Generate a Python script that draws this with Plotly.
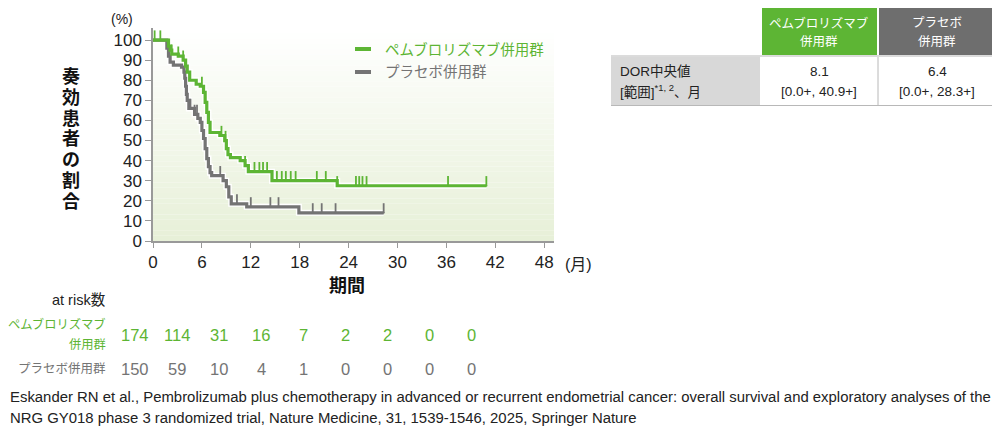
import plotly.graph_objects as go

# 奏効期間 (DOR) のKaplan-Meier曲線 : 時間(月)と生存割合(%)
pem_t = [0, 1.9, 2.1, 2.3, 3.1, 3.7, 4.0, 4.2, 4.5, 5.3, 5.8, 6.2, 6.4, 6.6, 6.8, 7.0,
         8.2, 8.8, 9.0, 9.2, 9.5, 10.7, 11.3, 11.7, 14.6, 22.6, 40.9]
pem_s = [100, 97, 95, 93, 92, 90, 87, 84, 80, 78, 77, 74, 69, 64, 59, 54,
         52.5, 50, 46, 43, 41.5, 40, 37.5, 34.5, 30, 27.5, 27.5]
pem_cens = [0.2, 0.9, 2.3, 3.1, 3.7, 6.0, 8.4, 8.9, 11.3, 12.45, 13.05, 13.5, 14.0,
            15.2, 15.8, 16.3, 16.9, 17.5, 20.1, 21.2, 22.6, 24.9, 25.3, 25.7, 26.2,
            36.2, 40.9]

pla_t = [0, 1.7, 1.9, 2.1, 2.5, 3.5, 3.8, 3.9, 4.0, 4.1, 4.2, 4.4, 5.1, 5.5, 5.8, 6.0,
         6.2, 6.4, 6.6, 6.8, 7.0, 7.2, 8.6, 9.0, 9.3, 9.6, 11.5, 17.9, 28.3]
pla_s = [100, 96, 92, 89, 87.5, 86.5, 84, 81, 77, 73, 70, 66, 63, 61, 59, 55,
         51, 46, 41, 37, 34, 32.5, 30, 27, 22, 18.5, 17, 14, 14]
pla_cens = [4.6, 5.1, 5.4, 8.25, 10.3, 12.0, 14.4, 15.4, 19.6, 20.7, 22.4, 28.3]

# at risk数
risk_pem = [174, 114, 31, 16, 7, 2, 2, 0, 0]
risk_pla = [150, 59, 10, 4, 1, 0, 0, 0, 0]

x_ticks = [0, 6, 12, 18, 24, 30, 36, 42, 48]
y_ticks = [0, 10, 20, 30, 40, 50, 60, 70, 80, 90, 100]

GREEN = '#5db534'
GRAY = '#747474'
FONT = 'Liberation Sans, Noto Sans CJK JP'

# ページの余白 (body margin 8px) を考慮
OFF = 8
W, H = 1000 - OFF, 432 - OFF
L, R, T, B = 153, 554, 28, 241


def px(x):
    return (x - L) / (R - L)


def py(y):
    return (B - y) / (B - T)


def level_at(times, surv, t):
    s = surv[0]
    for ti, si in zip(times, surv):
        if ti <= t:
            s = si
    return s


fig = go.Figure()

for t, s in [(pem_t, pem_s), (pla_t, pla_s)]:
    # 白い縁取り
    fig.add_trace(go.Scatter(x=t, y=s, mode='lines', line=dict(color='white', width=6, shape='hv'),
                             showlegend=False, hoverinfo='skip'))
for t, s, cens, col in [(pla_t, pla_s, pla_cens, GRAY), (pem_t, pem_s, pem_cens, GREEN)]:
    fig.add_trace(go.Scatter(x=t, y=s, mode='lines', line=dict(color=col, width=3.2, shape='hv'),
                             showlegend=False))
    # 打ち切り
    fig.add_trace(go.Scatter(x=cens, y=[level_at(t, s, c) for c in cens], mode='markers',
                             marker=dict(size=2, color=col),
                             error_y=dict(type='constant', symmetric=False, value=4.8, valueminus=0,
                                          width=0, thickness=1.8, color=col),
                             showlegend=False))

shapes = []
# 背景のグラデーション
n = 40
for i in range(n):
    f = i / (n - 1)
    r = round(255 - (255 - 231) * f)
    g = round(255 - (255 - 240) * f)
    b = round(255 - (255 - 216) * f)
    shapes.append(dict(type='rect', xref='paper', yref='paper', x0=0, x1=1,
                       y0=1 - (i + 1) / n, y1=1 - i / n, line=dict(width=0),
                       fillcolor=f'rgb({r},{g},{b})', layer='below'))

# 凡例の線
shapes.append(dict(type='line', xref='paper', yref='paper', x0=px(355), x1=px(371),
                   y0=py(49), y1=py(49), line=dict(color=GREEN, width=4)))
shapes.append(dict(type='line', xref='paper', yref='paper', x0=px(355), x1=px(371),
                   y0=py(72), y1=py(72), line=dict(color=GRAY, width=4)))


# 右上の表
def rect(x0, y0, x1, y1, fill):
    shapes.append(dict(type='rect', xref='paper', yref='paper', x0=px(x0), x1=px(x1),
                       y0=py(y1), y1=py(y0), fillcolor=fill, line=dict(width=0)))


def hline(x0, x1, y, col='#b8b8b8', w=1):
    shapes.append(dict(type='line', xref='paper', yref='paper', x0=px(x0), x1=px(x1),
                       y0=py(y), y1=py(y), line=dict(color=col, width=w)))


rect(762, 7, 877, 55, GREEN)
rect(879, 7, 995, 55, '#6e6e6e')
rect(611, 57, 760, 105, '#d8d8d8')
hline(611, 995, 6.5)
hline(611, 995, 56)
hline(611, 995, 105.5)
shapes.append(dict(type='line', xref='paper', yref='paper', x0=px(878), x1=px(878),
                   y0=py(57), y1=py(105), line=dict(color='#b8b8b8', width=1)))

ann = []


def text(x, y, s, size=14, color='#222', xanchor='center', bold=False):
    if bold:
        s = '<b>' + s + '</b>'
    ann.append(dict(x=px(x), y=py(y), xref='paper', yref='paper', text=s, showarrow=False,
                    xanchor=xanchor, yanchor='middle', font=dict(size=size, color=color, family=FONT)))


text(819, 23, 'ペムブロリズマブ', 12.5, 'white')
text(819, 42, '併用群', 12.5, 'white')
text(937, 23, 'プラセボ', 12.5, 'white')
text(937, 42, '併用群', 12.5, 'white')
text(618, 71, 'DOR中央値', 13.5, '#222', 'left')
text(618, 91, '[範囲]<sup>*1, 2</sup>、月', 13.5, '#222', 'left')
text(819, 71, '8.1', 13.5)
text(819, 91, '[0.0+, 40.9+]', 13.5)
text(937, 71, '6.4', 13.5)
text(937, 91, '[0.0+, 28.3+]', 13.5)

# 凡例
text(383, 49, 'ペムブロリズマブ併用群', 14.5, GREEN, 'left')
text(383, 72, 'プラセボ併用群', 14.5, GRAY, 'left')

# 軸まわり
text(122, 19, '(%)', 14)
text(578, 264, '(月)', 16)
text(347, 286, '期間', 18, '#111', bold=True)
for i, ch in enumerate('奏効患者の割合'):
    text(71, 77 + i * 20.8, ch, 18, '#111', bold=True)

# at risk数
text(108, 300, 'at risk数', 14.5, '#222', 'right')
text(108, 324, 'ペムブロリズマブ', 12.3, GREEN, 'right')
text(108, 345, '併用群', 12.3, GREEN, 'right')
text(108, 369, 'プラセボ併用群', 12.5, GRAY, 'right')
for i, (a, b) in enumerate(zip(risk_pem, risk_pla)):
    text(135 + i * 42.1, 335, str(a), 16.5, GREEN)
    text(135 + i * 42.1, 369, str(b), 16.5, GRAY)

# 出典
text(8, 397, 'Eskander RN et al., Pembrolizumab plus chemotherapy in advanced or recurrent endometrial '
             'cancer: overall survival and exploratory analyses of the', 14.9, '#222', 'left')
text(8, 418, 'NRG GY018 phase 3 randomized trial, Nature Medicine, 31, 1539-1546, 2025, Springer Nature',
     14.9, '#222', 'left')

fig.update_layout(
    width=W, height=H,
    margin=dict(l=L - OFF, r=OFF + W - R, t=T - OFF, b=OFF + H - B),
    paper_bgcolor='white', plot_bgcolor='white',
    shapes=shapes, annotations=ann, showlegend=False,
    font=dict(family=FONT, color='#222'),
)
fig.update_xaxes(range=[0, 49.2], tickvals=x_ticks, ticks='outside', ticklen=5, tickcolor='#999',
                 showline=True, linecolor='#999', linewidth=1.5, showgrid=False, zeroline=False,
                 tickfont=dict(size=17, color='#222'), fixedrange=True)
fig.update_yaxes(range=[0, 106], tickvals=y_ticks, ticks='outside', ticklen=6, tickcolor='#999',
                 showline=True, linecolor='#999', linewidth=1.5, showgrid=False, zeroline=False,
                 tickfont=dict(size=17, color='#222'), fixedrange=True)

fig.write_html('out.html')
